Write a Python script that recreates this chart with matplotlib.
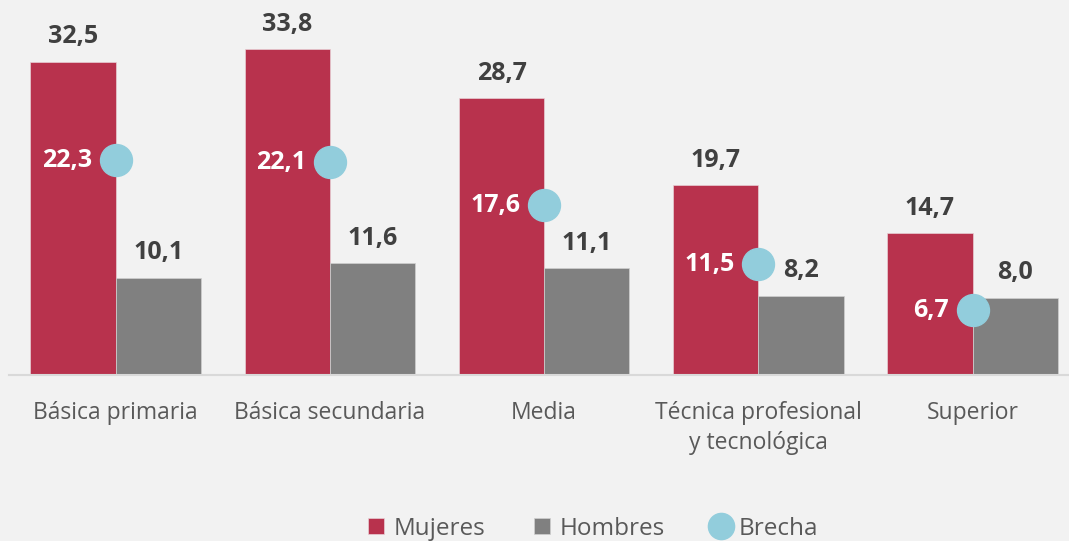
import numpy as np
import matplotlib.pyplot as plt

plt.rcParams['font.family'] = ['Open Sans', 'DejaVu Sans']

# Data
categorias = ['Básica primaria', 'Básica secundaria', 'Media',
              'Técnica profesional\ny tecnológica', 'Superior']
mujeres = [32.5, 33.8, 28.7, 19.7, 14.7]
hombres = [10.1, 11.6, 11.1, 8.2, 8.0]
brecha = [22.3, 22.1, 17.6, 11.5, 6.7]

c_muj = '#B8324D'
c_hom = '#808080'
c_bre = '#92CDDC'
bg = '#F2F2F2'


def fmt(v):
    return f'{v:.1f}'.replace('.', ',')


fig = plt.figure(figsize=(10.69, 5.41), dpi=100, facecolor=bg)
ax = fig.add_axes([0.008, 0.307, 1.002, 0.6765])
ax.set_facecolor(bg)

x = np.arange(len(categorias))
w = 0.398
ax.bar(x - w / 2, mujeres, w, color=c_muj, edgecolor='#E8D0D5', linewidth=0.5, label='Mujeres')
ax.bar(x + w / 2, hombres, w, color=c_hom, edgecolor='#D0D0D0', linewidth=0.5, label='Hombres')
ax.plot(x, brecha, 'o', color=c_bre, markersize=23, linestyle='none', label='Brecha', zorder=5)

for xi, v in zip(x, mujeres):
    ax.annotate(fmt(v), (xi - w / 2, v), xytext=(0, 9), textcoords='offset points',
                ha='center', va='bottom', fontsize=18, fontweight='bold', color='#404040')
for xi, v in zip(x, hombres):
    ax.annotate(fmt(v), (xi + w / 2, v), xytext=(0, 9), textcoords='offset points',
                ha='center', va='bottom', fontsize=18, fontweight='bold', color='#404040')
for xi, v in zip(x, brecha):
    ax.annotate(fmt(v), (xi, v), xytext=(-17, 0), textcoords='offset points',
                ha='right', va='center', fontsize=18, fontweight='bold', color='white', zorder=6)

ax.set_xlim(-0.5, 4.5)
ax.set_ylim(0, 38)
ax.set_xticks(x)
ax.set_xticklabels(categorias, fontsize=16.5, color='#595959', linespacing=1.3, va='top')
ax.tick_params(axis='x', length=0, pad=19)
ax.set_yticks([])
for s in ['top', 'right', 'left']:
    ax.spines[s].set_visible(False)
ax.spines['bottom'].set_color('#D9D9D9')
ax.spines['bottom'].set_linewidth(1.5)

h, l = ax.get_legend_handles_labels()
order = [l.index('Mujeres'), l.index('Hombres'), l.index('Brecha')]
fig.legend([h[i] for i in order], [l[i] for i in order],
           loc='lower center', bbox_to_anchor=(0.555, -0.04), ncol=3, frameon=False,
           fontsize=17.5, labelcolor='#595959', handlelength=0.65, handleheight=0.65,
           columnspacing=2.0, handletextpad=0.4, markerscale=0.82)

plt.savefig('out.png', dpi=100, facecolor=bg)
